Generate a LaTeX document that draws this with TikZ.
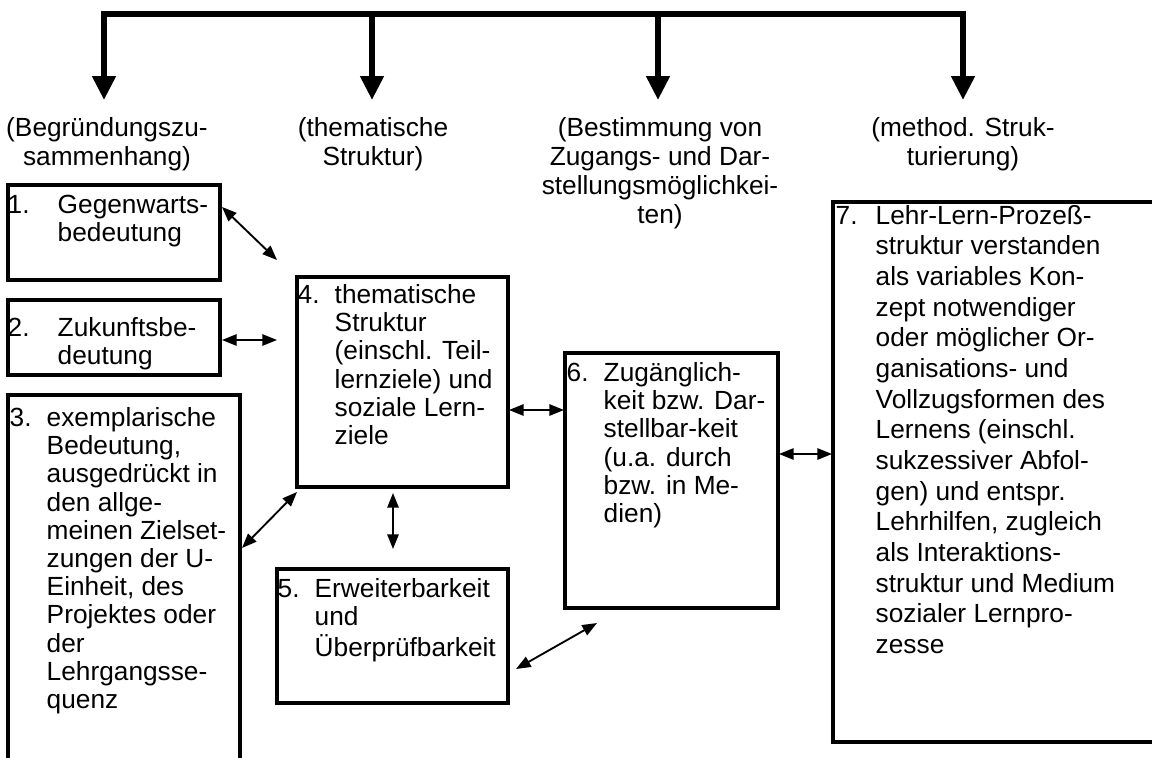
\documentclass[tikz,border=0pt]{standalone}
\usepackage{fontspec}
\setmainfont{Liberation Sans}
\usetikzlibrary{arrows.meta,fit}
\newcommand{\boxfont}{\fontsize{19.7pt}{21.15pt}\selectfont}
\newcommand{\bigboxfont}{\fontsize{19.7pt}{23pt}\selectfont}
\newcommand{\headfont}{\fontsize{19.7pt}{21.75pt}\selectfont}
\begin{document}
\begin{tikzpicture}[x=0.75pt,y=-0.75pt,
  box/.style={draw, line width=2.3pt, inner sep=0pt, rectangle},
  txt/.style={inner sep=0pt, anchor=north west, font=\boxfont},
  head/.style={inner sep=0pt, anchor=north, font=\headfont},
  link/.style={line width=1.4pt, {Triangle[length=11pt,width=8.5pt]}-{Triangle[length=11pt,width=8.5pt]}},
  bigarrow/.style={line width=4.3pt, line join=miter, -{Triangle[length=18pt,width=17pt]}},
  bigboth/.style={line width=4.3pt, line join=miter, {Triangle[length=18pt,width=17pt]}-{Triangle[length=18pt,width=17pt]}},
]
\useasboundingbox (0,0) rectangle (1152,757);

% top distribution bar
\coordinate (top1) at (104,14);
\coordinate (top2) at (372,14);
\coordinate (top3) at (658,14);
\coordinate (top4) at (963,14);
\coordinate (tip1) at (104,100);
\coordinate (tip2) at (372,100);
\coordinate (tip3) at (658,100);
\coordinate (tip4) at (963,100);
\draw[bigboth] (tip1) -- (top1) -- (top4) -- (tip4);
\draw[bigarrow] (top2) -- (tip2);
\draw[bigarrow] (top3) -- (tip3);

% headings
\node[head] (h1) at (107,116) {\begin{tabular}{@{}c@{}}(Begründungszu-\\sammenhang)\end{tabular}};
\node[head] (h2) at (373,116) {\begin{tabular}{@{}c@{}}(thematische\\Struktur)\end{tabular}};
\node[head] (h3) at (660,116) {\begin{tabular}{@{}c@{}}(Bestimmung von\\Zugangs- und Dar-\\stellungsmöglichkei-\\ten)\end{tabular}};
\node[head] (h4) at (963,116) {\begin{tabular}{@{}c@{}}(method. Struk-\\turierung)\end{tabular}};

% boxes
\node[box, fit={(8,185) (220,280)}] (b1) {};
\node[box, fit={(8,300) (220,375)}] (b2) {};
\node[box, fit={(8,395) (240,790)}] (b3) {};
\node[box, fit={(297,277) (508,487)}] (b4) {};
\node[box, fit={(277,569) (508,703)}] (b5) {};
\node[box, fit={(565,353) (778,608)}] (b6) {};
\node[box, fit={(833,202) (1175,742)}] (b7) {};

% box texts
\node[txt] (t1) at ([shift={(1,10)}]b1.north west) {\begin{tabular}{@{}p{37.5pt}@{}l@{}}1.&Gegenwarts-\\&bedeutung\end{tabular}};
\node[txt] (t2) at ([shift={(1,18)}]b2.north west) {\begin{tabular}{@{}p{37.5pt}@{}l@{}}2.&Zukunftsbe-\\&deutung\end{tabular}};
\node[txt] (t3) at ([shift={(3,13)}]b3.north west) {\begin{tabular}{@{}p{27.75pt}@{}l@{}}3.&exemplarische\\&Bedeutung,\\&ausgedrückt in\\&den allge-\\&meinen Zielset-\\&zungen der U-\\&Einheit, des\\&Projektes oder\\&der\\&Lehrgangsse-\\&quenz\end{tabular}};
\node[txt] (t4) at ([shift={(2,8)}]b4.north west) {\begin{tabular}{@{}p{27.75pt}@{}l@{}}4.&thematische\\&Struktur\\&(einschl. Teil-\\&lernziele) und\\&soziale Lern-\\&ziele\end{tabular}};
\node[txt] (t5) at ([shift={(2,10)}]b5.north west) {\begin{tabular}{@{}p{27.75pt}@{}l@{}}5.&Erweiterbarkeit\\&und\\&Überprüfbarkeit\end{tabular}};
\node[txt] (t6) at ([shift={(3,10)}]b6.north west) {\begin{tabular}{@{}p{27.75pt}@{}l@{}}6.&Zugänglich-\\&keit bzw. Dar-\\&stellbar-keit\\&(u.a. durch\\&bzw. in Me-\\&dien)\end{tabular}};
\node[txt, font=\bigboxfont] (t7) at ([shift={(4,2)}]b7.north west) {\begin{tabular}{@{}p{30pt}@{}l@{}}7.&Lehr-Lern-Prozeß-\\&struktur verstanden\\&als variables Kon-\\&zept notwendiger\\&oder möglicher Or-\\&ganisations- und\\&Vollzugsformen des\\&Lernens (einschl.\\&sukzessiver Abfol-\\&gen) und entspr.\\&Lehrhilfen, zugleich\\&als Interaktions-\\&struktur und Medium\\&sozialer Lernpro-\\&zesse\end{tabular}};

% connector end points
\coordinate (a1s) at (222,207);
\coordinate (a1e) at (277,260);
\coordinate (a2s) at (222,340);
\coordinate (a2e) at (277,340);
\coordinate (a3s) at (242,548);
\coordinate (a3e) at (297,492);
\coordinate (a4s) at (393,493);
\coordinate (a4e) at (393,549);
\coordinate (a5s) at (509,410);
\coordinate (a5e) at (564,410);
\coordinate (a6s) at (516,669);
\coordinate (a6e) at (597,623);
\coordinate (a7s) at (779,454);
\coordinate (a7e) at (832,454);

\draw[link] (a1s) -- (a1e);
\draw[link] (a2s) -- (a2e);
\draw[link] (a3s) -- (a3e);
\draw[link] (a4s) -- (a4e);
\draw[link] (a5s) -- (a5e);
\draw[link] (a6s) -- (a6e);
\draw[link] (a7s) -- (a7e);
\end{tikzpicture}
\end{document}
